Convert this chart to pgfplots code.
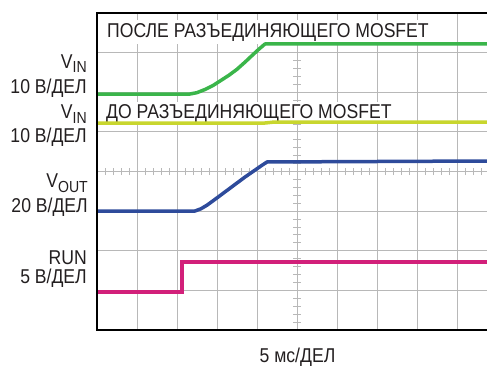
\documentclass[border=0pt]{standalone}
\usepackage{pgfplots}
\pgfplotsset{compat=1.18}
\usepackage{fontspec}
\setmainfont{Liberation Sans}[FakeStretch=0.88]
\definecolor{txt}{HTML}{231F20}
\definecolor{gridc}{HTML}{B8B8B8}
\definecolor{cgreen}{HTML}{3AB54A}
\definecolor{cyel}{HTML}{C8D62E}
\definecolor{cblue}{HTML}{2E4B9B}
\definecolor{cmag}{HTML}{D2207A}
\newcommand{\sub}[1]{\raisebox{-0.25em}{\fontsize{16}{16}\selectfont #1}}
\begin{document}
\begin{tikzpicture}[x=1pt,y=1pt]
\useasboundingbox (0,0) rectangle (487,365);
\begin{axis}[
  at={(97pt,35pt)}, anchor=south west,
  scale only axis, width=390pt, height=317pt,
  xmin=0, xmax=9.75, ymin=0, ymax=8,
  axis line style={draw=none},
  xtick={1,...,9}, ytick={1,...,7},
  xticklabels={}, yticklabels={},
  major tick length=0pt,
  grid=major,
  grid style={gridc, line width=1pt},
]
\pgfplotsinvokeforeach{0.2,0.4,...,9.8}{\draw[gridc, line width=0.9pt] (axis cs:#1,3.91) -- (axis cs:#1,4.09);}
\pgfplotsinvokeforeach{0.2,0.4,...,7.8}{\draw[gridc, line width=0.9pt] (axis cs:4.91,#1) -- (axis cs:5.09,#1);}
\node[fill=white, anchor=base west, inner xsep=10pt, inner ysep=3pt, text=txt, font=\fontsize{20}{20}\selectfont] at (axis cs:0,7.39) {ПОСЛЕ РАЗЪЕДИНЯЮЩЕГО MOSFET};
\node[fill=white, anchor=base west, inner xsep=9pt, inner ysep=2pt, text=txt, font=\fontsize{20}{20}\selectfont] at (axis cs:0,5.35) {ДО РАЗЪЕДИНЯЮЩЕГО MOSFET};
% V_IN after disconnecting MOSFET
\addplot[cgreen, line width=3.5pt, line join=round] coordinates {
 (0,5.956) (2.325,5.956) (2.5,5.99) (2.7,6.07) (2.9,6.17) (3.1,6.30) (3.3,6.43) (3.5,6.58) (3.7,6.76) (3.9,6.95) (4.05,7.09) (4.2,7.218) (9.75,7.218)};
% V_IN before
\addplot[cyel, line width=3.5pt] coordinates {
 (0,5.224) (4.2,5.224) (4.4,5.245) (9.75,5.245)};
% V_OUT
\addplot[cblue, line width=3.5pt, line join=round] coordinates {
 (0,3.003) (2.45,3.003) (2.6,3.06) (2.75,3.15) (2.9,3.26) (3.075,3.39) (3.3,3.56) (3.5,3.71) (3.7,3.86) (3.9,4.0) (4.1,4.14) (4.25,4.24) (9.75,4.265)};
% RUN
\addplot[cmag, line width=3.5pt] coordinates {
 (0,0.959) (2.125,0.959) (2.125,1.716) (9.75,1.716)};
\end{axis}
\draw[black, line width=1.6pt] (487,352) -- (97,352) -- (97,35) -- (487,35);
\begin{scope}[every node/.style={text=txt, font=\fontsize{20}{20}\selectfont, inner sep=0pt}]
\node[anchor=base east] at (87,297) {V\sub{IN}};
\node[anchor=base east] at (87,272) {10 В/ДЕЛ};
\node[anchor=base east] at (87,247) {V\sub{IN}};
\node[anchor=base east] at (87,223) {10 В/ДЕЛ};
\node[anchor=base east] at (88,178) {V\sub{OUT}};
\node[anchor=base east] at (88,153) {20 В/ДЕЛ};
\node[anchor=base east] at (87,101) {RUN};
\node[anchor=base east] at (87,82) {5 В/ДЕЛ};
\node[anchor=base] at (297.5,3) {5 мс/ДЕЛ};
\end{scope}
\end{tikzpicture}
\end{document}
